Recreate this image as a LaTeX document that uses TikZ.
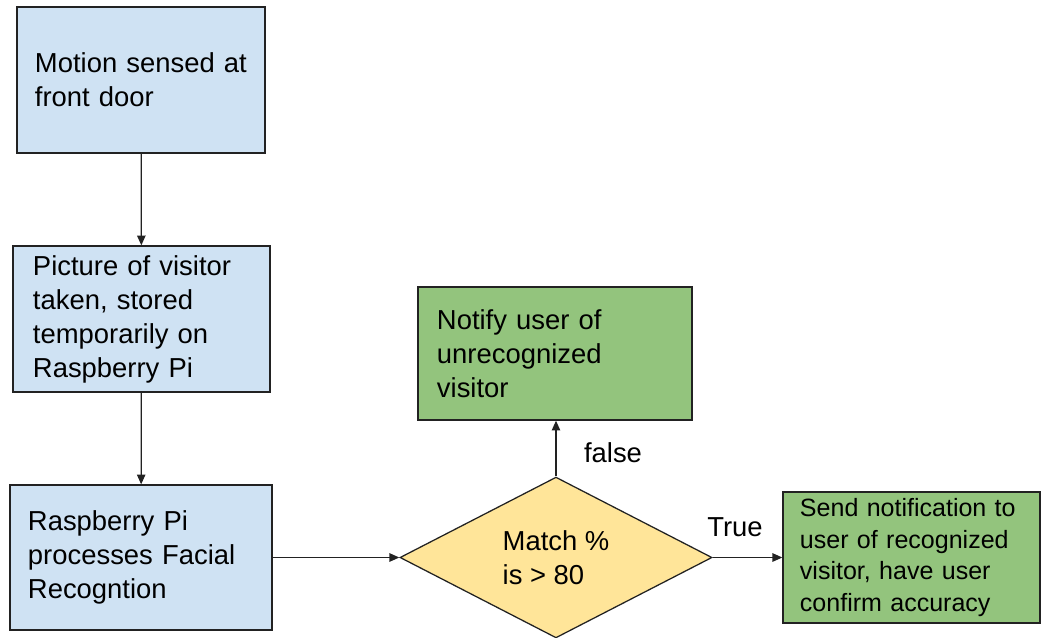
\documentclass[tikz,border=0pt]{standalone}
\usepackage{fontspec}
\setmainfont{Liberation Sans}
\usetikzlibrary{shapes.geometric,arrows.meta}
\definecolor{boxblue}{HTML}{CFE2F3}
\definecolor{boxgreen}{HTML}{93C47D}
\definecolor{boxyellow}{HTML}{FFE599}
\definecolor{edgegray}{HTML}{222222}
\tikzset{
  stepbox/.style={rectangle,draw=edgegray,line width=0.9pt,fill=boxblue,align=left,
    inner xsep=4.5mm,inner ysep=0pt,font=\fontsize{19.5}{24.2}\selectfont},
  flow/.style={draw=edgegray,line width=0.9pt,-{Triangle[length=7pt,width=6pt]}},
  lbl/.style={inner sep=0pt,font=\fontsize{19.5}{24.2}\selectfont},
}
\begin{document}
\begin{tikzpicture}[x=0.025cm,y=-0.025cm]
\useasboundingbox (0,0) rectangle (1047,638);

\node[stepbox,text width=5.3cm,minimum height=3.65cm] (motion) at (141,80)
  {Motion sensed at\\front door};
\node[stepbox,inner xsep=5mm,text width=5.425cm,minimum height=3.65cm] (picture) at (141.5,319)
  {Picture of visitor\\taken, stored\\temporarily on\\Raspberry Pi};
\node[stepbox,text width=5.65cm,minimum height=3.625cm] (process) at (141,557.5)
  {Raspberry Pi\\processes Facial\\Recogntion};
\node[diamond,draw=edgegray,line width=0.9pt,fill=boxyellow,align=left,inner sep=0pt,
  minimum width=7.8cm,minimum height=3.95cm,font=\fontsize{19.5}{24.2}\selectfont] (match) at (556,557.5)
  {Match \%\\is > 80};
\node[stepbox,fill=boxgreen,inner xsep=4.75mm,text width=5.9cm,minimum height=3.325cm] (notify) at (555,353.5)
  {Notify user of\\unrecognized\\visitor};
\node[stepbox,fill=boxgreen,inner xsep=4.25mm,text width=5.575cm,minimum height=3.275cm,
  font=\fontsize{17.8}{22.6}\selectfont] (send) at (911.5,557.5)
  {Send notification to\\user of recognized\\visitor, have user\\confirm accuracy};

\draw[flow] (motion) -- (picture);
\draw[flow] (picture) -- (process);
\draw[flow] (process) -- (match);
\draw[flow] (match.north) -- (match.north |- notify.south);
\draw[flow] (match) -- (send);

\node[lbl] (false) at (613,453) {false};
\node[lbl] (true) at (735,527) {True};
\end{tikzpicture}
\end{document}
